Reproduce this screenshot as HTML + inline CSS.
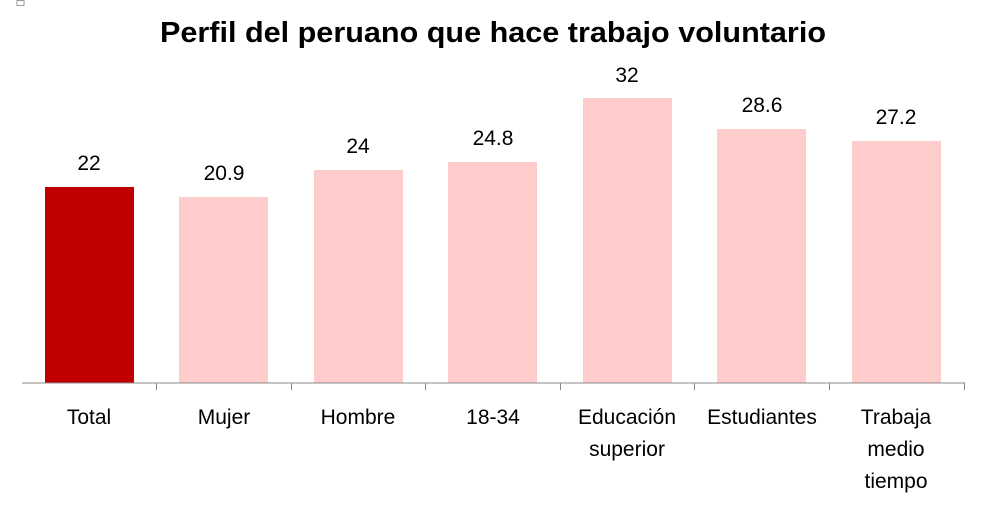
<!DOCTYPE html>
<html><head><meta charset="utf-8"><style>body{margin:0;background:#fff}</style></head><body>
<svg width="981" height="502" xmlns="http://www.w3.org/2000/svg" font-family="Liberation Sans, sans-serif">
<rect x="17" y="0.5" width="7" height="5" fill="none" stroke="#999" stroke-width="1"/>
<text x="160" y="42" font-size="29" font-weight="bold" textLength="666" lengthAdjust="spacingAndGlyphs">Perfil del peruano que hace trabajo voluntario</text>
<g>
<rect x="45" y="187" width="89" height="196" fill="#c00000"/>
<rect x="179" y="197" width="89" height="186" fill="#ffcccc"/>
<rect x="314" y="170" width="89" height="213" fill="#ffcccc"/>
<rect x="448" y="162" width="89" height="221" fill="#ffcccc"/>
<rect x="583" y="98" width="89" height="285" fill="#ffcccc"/>
<rect x="717" y="129" width="89" height="254" fill="#ffcccc"/>
<rect x="852" y="141" width="89" height="242" fill="#ffcccc"/>
</g>
<line x1="22" y1="383" x2="965" y2="383" stroke="#888" stroke-width="1"/>
<g stroke="#888">
<line x1="156.5" y1="383" x2="156.5" y2="390"/><line x1="291.5" y1="383" x2="291.5" y2="390"/><line x1="425.5" y1="383" x2="425.5" y2="390"/><line x1="560.5" y1="383" x2="560.5" y2="390"/><line x1="694.5" y1="383" x2="694.5" y2="390"/><line x1="829.5" y1="383" x2="829.5" y2="390"/><line x1="964.5" y1="383" x2="964.5" y2="390"/>
</g>
<g font-size="21" text-anchor="middle" fill="#000">
<text x="89" y="170">22</text>
<text x="224" y="180">20.9</text>
<text x="358" y="153">24</text>
<text x="493" y="145">24.8</text>
<text x="627" y="82">32</text>
<text x="762" y="112">28.6</text>
<text x="896" y="124">27.2</text>
<text x="89" y="424">Total</text>
<text x="224" y="424">Mujer</text>
<text x="358" y="424">Hombre</text>
<text x="493" y="424">18-34</text>
<text x="627" y="424">Educación</text>
<text x="627" y="456">superior</text>
<text x="762" y="424">Estudiantes</text>
<text x="896" y="424">Trabaja</text>
<text x="896" y="456">medio</text>
<text x="896" y="488">tiempo</text>
</g>
</svg>
</body></html>
